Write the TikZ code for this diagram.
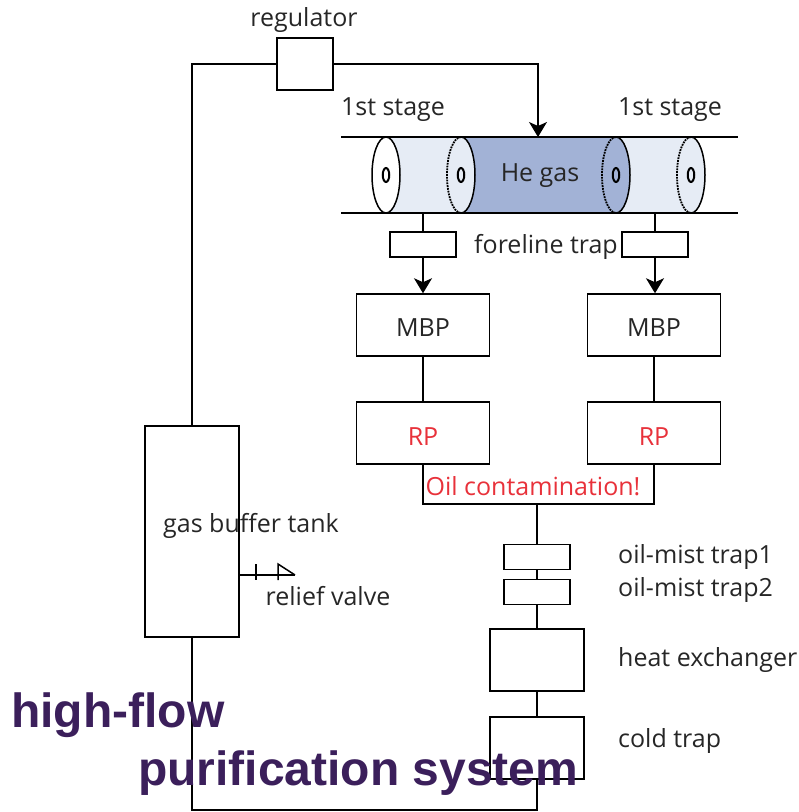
\documentclass[tikz,border=0pt]{standalone}
\usepackage{fontspec}
\setmainfont{Open Sans}
\newfontfamily\titlefont{Liberation Sans}
\usetikzlibrary{arrows.meta, positioning, shapes.geometric}
\definecolor{lightgas}{HTML}{E6ECF5}
\definecolor{darkgas}{HTML}{A2B2D6}
\definecolor{oilred}{HTML}{E8313A}
\definecolor{titlepurple}{HTML}{3B1F5B}
\begin{document}
\begin{tikzpicture}[
        x=1pt, y=-1pt,
        every node/.style={font=\fontsize{25}{28}\selectfont, text=black!85},
        unit/.style={rectangle, draw, line width=1.5pt, fill=white, inner sep=0pt},
        bigbox/.style={unit, minimum width=133pt, minimum height=62pt, text height=22pt, text depth=0pt},
        squarebox/.style={unit, minimum width=94pt, minimum height=62pt},
        trapbox/.style={unit, minimum width=66pt, minimum height=25pt},
        ring/.style={ellipse, draw, line width=2pt, inner sep=0pt, minimum width=6.5pt, minimum height=14pt},
        pipe/.style={line width=1.5pt},
        arrow/.style={-{Stealth[length=15pt, width=18pt, inset=4pt]}, line width=1.5pt},
        rp/.style={text=oilred},
        title/.style={font=\titlefont\bfseries\fontsize{48}{52}\selectfont, text=titlepurple, anchor=base west, inner sep=0pt}
    ]
        \useasboundingbox (0,0) rectangle (799,812);

        % Gas in the tube
        \fill[lightgas] (386,137) -- (691,137) arc[start angle=90, end angle=-90, x radius=14pt, y radius=38pt] -- (386,213) -- cycle;
        \fill[darkgas] (461,137) -- (616,137) arc[start angle=90, end angle=-90, x radius=14pt, y radius=38pt] -- (461,213) arc[start angle=-90, end angle=90, x radius=14pt, y radius=38pt] -- cycle;

        % Ends of the tube
        \draw[pipe, fill=white] (386,175) ellipse[x radius=14pt, y radius=38pt];
        \foreach \xpos in {461, 616, 691} {
            \draw[pipe] (\xpos,137) arc[start angle=90, end angle=-90, x radius=14pt, y radius=38pt];
            \draw[line width=1.8pt, densely dotted] (\xpos,137) arc[start angle=90, end angle=270, x radius=14pt, y radius=38pt];
        }
        \foreach \xpos [count=\i] in {386, 461, 616, 691}
            \node[ring] (ring\i) at (\xpos,175) {};

        % Nodes
        \node[unit, minimum width=56pt, minimum height=52pt] (regulator) at (305,64) {};
        \node[unit, minimum width=94pt, minimum height=211pt, fill=none] (tank) at (192,531.5) {};
        \node[trapbox] (forelineL) at (423,244.5) {};
        \node[trapbox] (forelineR) at (655,244.5) {};
        \node[bigbox] (mbpL) at (423,325) {MBP};
        \node[bigbox] (mbpR) at (654,325) {MBP};
        \node[bigbox, rp, text height=24pt] (rpL) at (423,433) {RP};
        \node[bigbox, rp, text height=24pt] (rpR) at (654,433) {RP};
        \node[trapbox] (mistA) at (537,557) {};
        \node[trapbox] (mistB) at (537,592) {};
        \node[squarebox] (exchanger) at (537,660) {};
        \node[squarebox] (coldtrap) at (537,748) {};

        \coordinate (gasin) at (538,137);
        \coordinate (tubeL) at (423,213);
        \coordinate (tubeR) at (655,213);
        \coordinate (collect) at (537,504);
        \coordinate (bottom) at (537,810);
        \coordinate (valve) at (295,575);

        % Labels
        \node at (304,20) {regulator};
        \node at (393,110) {1st stage};
        \node at (670,110) {1st stage};
        \node at (540,176) {He gas};
        \node at (546,247) {foreline trap};
        \node at (251,526) {gas buffer tank};
        \node at (328,596) {relief valve};
        \node[rp] at (533,486) {Oil contamination!};
        \node[anchor=west, inner sep=0pt] at (618,557) {oil-mist trap1};
        \node[anchor=west, inner sep=0pt] at (618,590) {oil-mist trap2};
        \node[anchor=west, inner sep=0pt] at (618,660) {heat exchanger};
        \node[anchor=west, inner sep=0pt] at (618,741) {cold trap};

        % Arrows
        \draw[pipe] (341,137) -- (738,137);
        \draw[pipe] (341,213) -- (738,213);
        \draw[pipe] (regulator.west) -| (tank.north);
        \draw[arrow] (regulator.east) -| (gasin);
        \draw[pipe] (tubeL) -- (forelineL);
        \draw[pipe] (tubeR) -- (forelineR);
        \draw[arrow] (forelineL) -- (mbpL.north -| forelineL);
        \draw[arrow] (forelineR) -- (mbpR.north -| forelineR);
        \draw[pipe] (mbpL) -- (rpL);
        \draw[pipe] (mbpR) -- (rpR);
        \draw[pipe] (rpL) |- (collect);
        \draw[pipe] (rpR) |- (collect);
        \draw[pipe] (collect) -- (mistA);
        \draw[pipe] (mistA) -- (mistB);
        \draw[pipe] (mistB) -- (exchanger);
        \draw[pipe] (exchanger) -- (coldtrap);
        \draw[pipe] (tank.south) |- (bottom) -- (coldtrap.south);

        % Relief valve
        \draw[pipe] (tank.east |- valve) -- (valve);
        \draw[pipe] (256,564) -- (256,580);
        \draw[pipe] (278,580) -- (278,564) -- (valve);

        % Title
        \node[title] (titleA) at (11,727) {high-flow};
        \node[title] (titleB) at (138,785) {purification system};
    \end{tikzpicture}
\end{document}
